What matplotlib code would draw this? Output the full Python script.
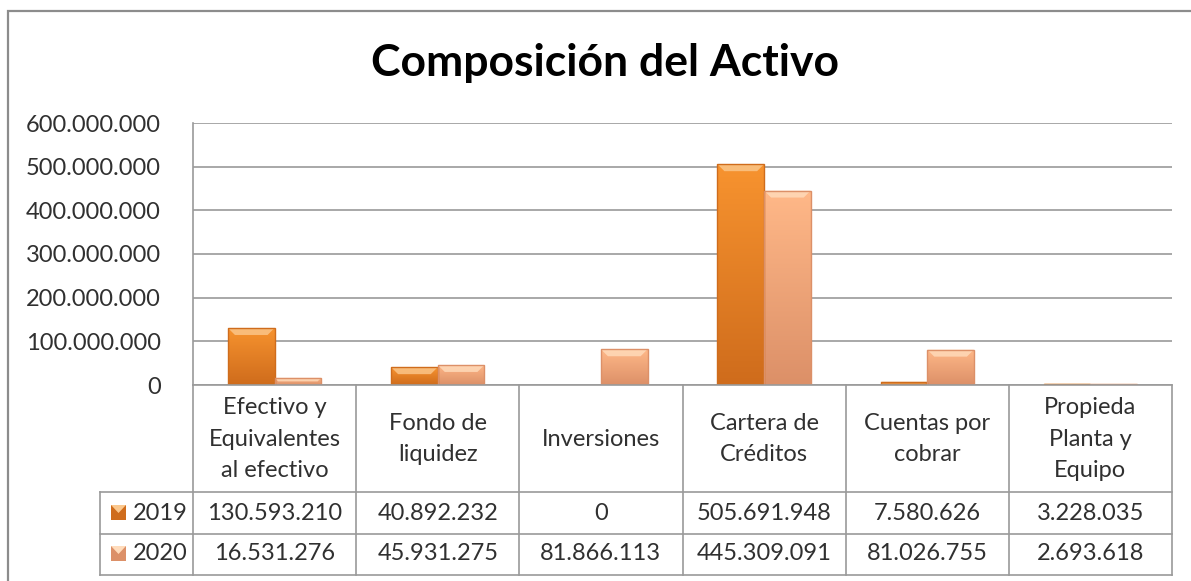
import numpy as np
import matplotlib
matplotlib.use("Agg")
import matplotlib.pyplot as plt
from matplotlib import transforms
from matplotlib.patches import Rectangle, Polygon
from matplotlib.lines import Line2D
from matplotlib.colors import LinearSegmentedColormap

plt.rcParams['font.family'] = ['Lato', 'DejaVu Sans']

categories = ["Efectivo y\nEquivalentes\nal efectivo", "Fondo de\nliquidez", "Inversiones",
              "Cartera de\nCréditos", "Cuentas por\ncobrar", "Propieda\nPlanta y\nEquipo"]
series_names = ["2019", "2020"]
values_2019 = [130593210, 40892232, 0, 505691948, 7580626, 3228035]
values_2020 = [16531276, 45931275, 81866113, 445309091, 81026755, 2693618]
yticks = [0, 100000000, 200000000, 300000000, 400000000, 500000000, 600000000]

W, H = 1191, 581
fig = plt.figure(figsize=(W / 100, H / 100), dpi=100)

def fx(px):
    return px / W

def fy(py):
    return 1 - py / H

# chart frame
fig.add_artist(Rectangle((fx(8), fy(600)), fx(1200), fy(11) - fy(600),
                         transform=fig.transFigure, fill=False, ec="#8c8c8c", lw=1.6))

fig.text(fx(605), fy(63), "Composición del Activo", ha="center", va="center",
         fontsize=32, fontweight="bold", color="black")

ax = fig.add_axes([fx(193), fy(385), fx(1172) - fx(193), fy(123) - fy(385)])
ax.set_xlim(-0.5, len(categories) - 0.5)
ax.set_ylim(0, 600000000)
ax.set_yticks(yticks)
ax.set_yticklabels([f"{v:,}".replace(",", ".") for v in yticks], fontsize=17, color="#303030")
ax.tick_params(axis="y", length=0, pad=23)
ax.set_xticks([])
ax.grid(axis="y", color="#9a9a9a", lw=1.2)
ax.set_axisbelow(True)
for s in ["top", "right", "bottom"]:
    ax.spines[s].set_visible(False)
ax.spines["left"].set_color("#9a9a9a")
ax.spines["left"].set_linewidth(1.2)

colors = [("#f7932f", "#cf6c1c", "#fbc88e"), ("#ffb888", "#dc9068", "#ffdcbc")]
x = np.arange(len(categories))
bw = 0.286
grad = np.linspace(1, 0, 100).reshape(-1, 1)
ypp = 600000000 / 262.0
for k, vals in enumerate([values_2019, values_2020]):
    top_c, bot_c, bevel_c = colors[k]
    cmap = LinearSegmentedColormap.from_list("g", [bot_c, top_c])
    bars = ax.bar(x + (k - 0.5) * bw, vals, bw, color=top_c, edgecolor="none", zorder=2)
    for b in bars:
        h = b.get_height()
        if h <= 0:
            continue
        x0, x1 = b.get_x(), b.get_x() + b.get_width()
        im = ax.imshow(grad, extent=[x0, x1, 0, h], aspect="auto", cmap=cmap, zorder=2.1)
        im.set_clip_path(b)
        bev = min(7 * ypp, h / 2)
        dx = min(0.045, bev / ypp / 163.0)
        ax.add_patch(Polygon([[x0, h], [x1, h], [x1 - dx, h - bev], [x0 + dx, h - bev]],
                             closed=True, fc=bevel_c, ec="none", alpha=0.8, zorder=2.2))
        ax.add_patch(Rectangle((x0, 0), x1 - x0, h, fill=False, ec=bot_c, lw=1.0, zorder=2.3))
ax.set_xlim(-0.5, len(categories) - 0.5)
ax.set_ylim(0, 600000000)

# data table
tr = transforms.blended_transform_factory(ax.transData, fig.transFigure)
line_c = "#9a9a9a"
fig.add_artist(Line2D([fx(193), fx(1172)], [fy(385), fy(385)], transform=fig.transFigure, color=line_c, lw=1.2))
for yy in [492, 534, 575]:
    fig.add_artist(Line2D([fx(100), fx(1172)], [fy(yy), fy(yy)], transform=fig.transFigure, color=line_c, lw=1.2))
fig.add_artist(Line2D([fx(100), fx(100)], [fy(492), fy(575)], transform=fig.transFigure, color=line_c, lw=1.2))
for i in range(len(categories) + 1):
    fig.add_artist(Line2D([i - 0.5, i - 0.5], [fy(385), fy(575)], transform=tr, color=line_c, lw=1.2))

for i, c in enumerate(categories):
    fig.text(i, fy(439), c, transform=tr, ha="center", va="center", fontsize=17,
             color="#303030", linespacing=1.62)

row_y = [513, 554]
for k, vals in enumerate([values_2019, values_2020]):
    for i, v in enumerate(vals):
        fig.text(i, fy(row_y[k]), f"{v:,}".replace(",", "."), transform=tr, ha="center",
                 va="center", fontsize=17, color="#303030")
    fig.add_artist(Rectangle((fx(111), fy(row_y[k] + 7)), fx(15), fy(row_y[k] - 8) - fy(row_y[k] + 7),
                             transform=fig.transFigure, fc=colors[k][1], ec="none"))
    fig.add_artist(Polygon([[fx(111), fy(row_y[k] - 8)], [fx(126), fy(row_y[k] - 8)],
                            [fx(118.5), fy(row_y[k])]], transform=fig.transFigure,
                           fc=colors[k][2], ec="none"))
    fig.text(fx(133), fy(row_y[k]), series_names[k], ha="left", va="center", fontsize=17, color="#303030")

fig.savefig("out.png", dpi=100)
